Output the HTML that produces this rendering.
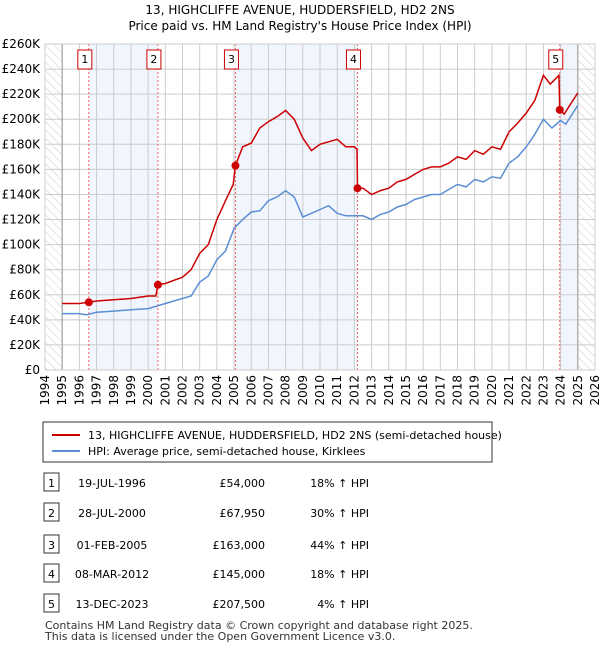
<!DOCTYPE html>
<html><head><meta charset="utf-8"><style>
body{margin:0;background:#fff;font-family:"Liberation Sans","DejaVu Sans",sans-serif;}
svg text{font-family:"DejaVu Sans","Liberation Sans",sans-serif;}
</style></head><body>
<svg id="c" width="600" height="650" xmlns="http://www.w3.org/2000/svg">
<defs><pattern id="hatch" width="6" height="6" patternUnits="userSpaceOnUse" patternTransform="rotate(-45)"><line x1="0" y1="0" x2="0" y2="6" stroke="#ccc" stroke-width="1"/></pattern></defs>
<text x="300" y="14" text-anchor="middle" font-size="12">13, HIGHCLIFFE AVENUE, HUDDERSFIELD, HD2 2NS</text>
<text x="300" y="30" text-anchor="middle" font-size="12">Price paid vs. HM Land Registry's House Price Index (HPI)</text>
<g id="plot"></g>
<g>
<rect x="43" y="422" width="449" height="40" fill="#fff" stroke="#333"/>
<line x1="52" y1="435" x2="80" y2="435" stroke="#cc0000" stroke-width="2"/>
<text x="88" y="439" font-size="11">13, HIGHCLIFFE AVENUE, HUDDERSFIELD, HD2 2NS (semi-detached house)</text>
<line x1="52" y1="451" x2="80" y2="451" stroke="#5b8fd4" stroke-width="2"/>
<text x="88" y="455" font-size="11">HPI: Average price, semi-detached house, Kirklees</text>
</g>
<g id="table" font-size="11"></g>
<text x="45" y="629" font-size="11" fill="#333">Contains HM Land Registry data © Crown copyright and database right 2025.</text>
<text x="45" y="640" font-size="11" fill="#333">This data is licensed under the Open Government Licence v3.0.</text>
</svg>
<script>
const yTicks=[0,20,40,60,80,100,120,140,160,180,200,220,240,260];
const xYears=[1994,1995,1996,1997,1998,1999,2000,2001,2002,2003,2004,2005,2006,2007,2008,2009,2010,2011,2012,2013,2014,2015,2016,2017,2018,2019,2020,2021,2022,2023,2024,2025,2026];
const hpiT=[1995,1996,1996.4,1997,1998,1999,2000,2000.5,2001,2002,2002.5,2003,2003.5,2004,2004.5,2005,2005.5,2006,2006.5,2007,2007.5,2008,2008.5,2009,2009.5,2010,2010.5,2011,2011.5,2012,2012.5,2013,2013.5,2014,2014.5,2015,2015.5,2016,2016.5,2017,2017.5,2018,2018.5,2019,2019.5,2020,2020.5,2021,2021.5,2022,2022.5,2023,2023.5,2024,2024.3,2025];
const hpiV=[45,45,44,46,47,48,49,51,53,57,59,70,75,88,95,113,120,126,127,135,138,143,138,122,125,128,131,125,123,123,123,120,124,126,130,132,136,138,140,140,144,148,146,152,150,154,153,165,170,178,188,200,193,199,196,211];
const priceT=[1995,1996,1996.55,1997,1998,1999,2000,2000.45,2000.57,2001,2002,2002.5,2003,2003.5,2004,2004.5,2004.95,2005.08,2005.5,2006,2006.5,2007,2007.5,2008,2008.5,2009,2009.5,2010,2010.5,2011,2011.5,2012,2012.15,2012.18,2012.5,2013,2013.5,2014,2014.5,2015,2015.5,2016,2016.5,2017,2017.5,2018,2018.5,2019,2019.5,2020,2020.5,2021,2021.5,2022,2022.5,2023,2023.4,2023.9,2023.95,2024.2,2025];
const priceV=[53,53,54,55,56,57,59,59,68,69,74,80,93,100,120,135,148,163,178,181,193,198,202,207,200,185,175,180,182,184,178,178,176,145,145,140,143,145,150,152,156,160,162,162,165,170,168,175,172,178,176,190,197,205,215,235,228,235,207.5,204,221];
const saleLabels=["1","2","3","4","5"];
const saleT=[1996.55,2000.57,2005.08,2012.18,2023.95];
const saleDates=["19-JUL-1996","28-JUL-2000","01-FEB-2005","08-MAR-2012","13-DEC-2023"];
const salePrices=[54000,67950,163000,145000,207500];
const saleHpi=["18% ↑ HPI","30% ↑ HPI","44% ↑ HPI","18% ↑ HPI","4% ↑ HPI"];
const NS="http://www.w3.org/2000/svg";
const L=45,R=595,T=44,B=370;
const x=t=>L+(t-1994)/32*(R-L);
const y=v=>B-v/260*(B-T);
function mk(tag,attrs,parent){const e=document.createElementNS(NS,tag);for(const k in attrs)e.setAttribute(k,attrs[k]);parent.appendChild(e);return e;}
const g=document.getElementById('plot');
for(let i=0;i<saleT.length;i+=2){const a=saleT[i],b=i+1<saleT.length?saleT[i+1]:2025;
const r=mk('rect',{x:x(a),y:T,width:x(b)-x(a),height:B-T,fill:'#f1f5fd'},g);

}
const h1=mk('rect',{x:L,y:T,width:x(1995)-L,height:B-T,fill:'url(#hatch)'},g);


const h2=mk('rect',{x:x(2025),y:T,width:R-x(2025),height:B-T,fill:'url(#hatch)'},g);


yTicks.forEach(v=>{const l=mk('line',{x1:L,x2:R,y1:y(v),y2:y(v),stroke:'#ccc'},g);


const t=mk('text',{x:L-5,y:y(v)+4,'text-anchor':'end','font-size':12},g);t.textContent=v==0?'£0':'£'+v+'K';

});
xYears.forEach(yr=>{const l=mk('line',{x1:x(yr),x2:x(yr),y1:T,y2:B,stroke:'#ccc'},g);


const t=mk('text',{transform:`translate(${x(yr)+4},${B+5}) rotate(-90)`,'text-anchor':'end','font-size':12},g);t.textContent=yr;

});
[1995,2025].forEach(yr=>{const l=mk('line',{x1:x(yr),x2:x(yr),y1:T,y2:B,stroke:'#999'},g);

});
saleT.forEach((t,i)=>{const l=mk('line',{x1:x(t),x2:x(t),y1:T,y2:B,stroke:'#f06060','stroke-dasharray':'2,2'},g);


const bx=mk('rect',{x:x(t)-11,y:50,width:14,height:19,fill:'#fff',stroke:'#cc0000'},g);


const tx=mk('text',{x:x(t)-4,y:63,'text-anchor':'middle','font-size':11},g);tx.textContent=saleLabels[i];

});
const hp=mk('path',{d:hpiT.map((t,i)=>(i?'L':'M')+x(t).toFixed(1)+','+y(hpiV[i]).toFixed(1)).join(''),fill:'none',stroke:'#5b8fd4','stroke-width':1.5},g);


const pp=mk('path',{d:priceT.map((t,i)=>(i?'L':'M')+x(t).toFixed(1)+','+y(priceV[i]).toFixed(1)).join(''),fill:'none',stroke:'#cc0000','stroke-width':1.5},g);


saleT.forEach((t,i)=>{const c=mk('circle',{cx:x(t),cy:y(salePrices[i]/1000),r:4,fill:'#cc0000'},g);

});
mk('rect',{x:L,y:T,width:R-L,height:B-T,fill:'none',stroke:'#ccc'},g);
const tb=document.getElementById('table');
const rowY=[483,513,545,574,604];
saleT.forEach((t,i)=>{const yy=rowY[i];
const bx=mk('rect',{x:44,y:yy-10,width:15,height:18,fill:'#fff',stroke:'#333'},tb);


const cells=[[51.5,'middle',saleLabels[i]],[112,'middle',saleDates[i]],[265,'end','£'+salePrices[i].toLocaleString('en-GB')],[369,'end',saleHpi[i]]];
cells.forEach(c=>{const e=mk('text',{x:c[0],y:yy+4,'text-anchor':c[1]},tb);e.textContent=c[2];

});});
</script>
</body></html>
